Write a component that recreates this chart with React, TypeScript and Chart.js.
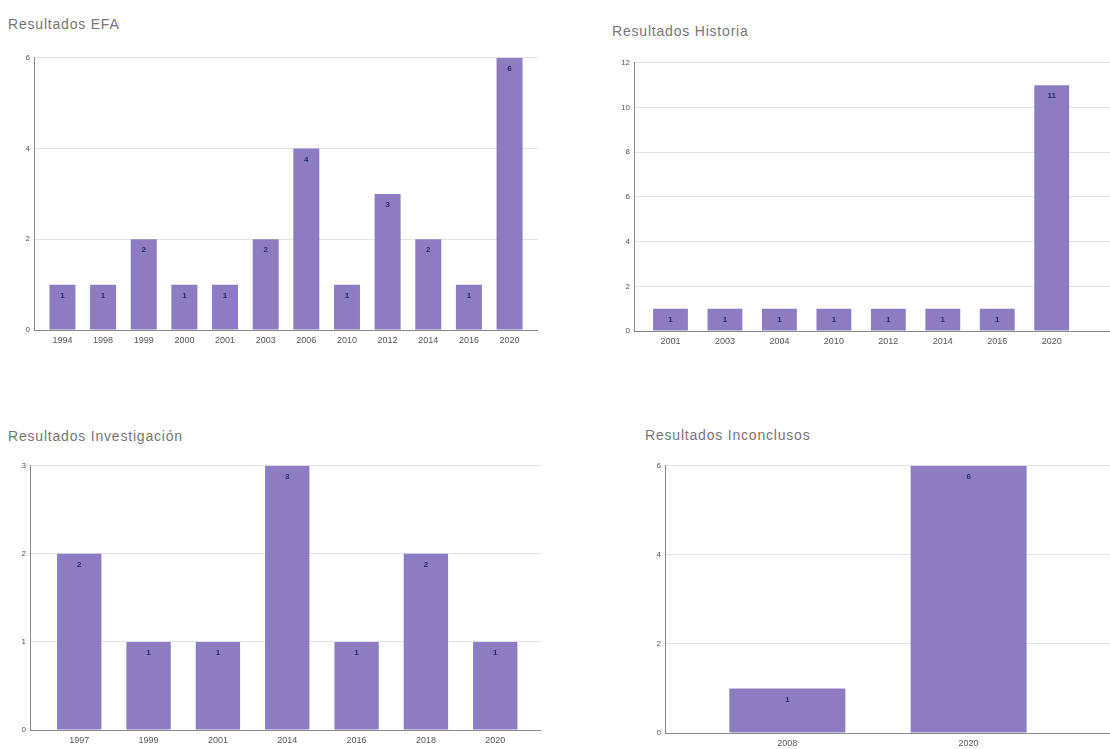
import React, { useEffect, useRef } from "react";
import { Chart, registerables } from "chart.js";

Chart.register(...registerables);

// ---- Data ----
const efaYears = ["1994", "1998", "1999", "2000", "2001", "2003", "2006", "2010", "2012", "2014", "2016", "2020"];
const efaValues = [1, 1, 2, 1, 1, 2, 4, 1, 3, 2, 1, 6];

const historiaYears = ["2001", "2003", "2004", "2010", "2012", "2014", "2016", "2020"];
const historiaValues = [1, 1, 1, 1, 1, 1, 1, 11];

const investigacionYears = ["1997", "1999", "2001", "2014", "2016", "2018", "2020"];
const investigacionValues = [2, 1, 1, 3, 1, 2, 1];

const inconclusosYears = ["2008", "2020"];
const inconclusosValues = [1, 6];

const BAR_COLOR = "#8e7cc3";
const FONT = "'Liberation Sans', Arial, sans-serif";

const valueLabelPlugin = {
  id: "valueLabels",
  afterDatasetsDraw(chart: any) {
    const ctx = chart.ctx;
    ctx.save();
    ctx.font = `bold 8px ${FONT}`;
    ctx.fillStyle = "#2b2b6e";
    ctx.textAlign = "center";
    ctx.textBaseline = "middle";
    chart.data.datasets.forEach((ds: any, di: number) => {
      const meta = chart.getDatasetMeta(di);
      meta.data.forEach((el: any, i: number) => {
        const v = ds.data[i].y;
        ctx.fillText(String(v), el.x, el.y + 11);
      });
    });
    ctx.restore();
  },
};

type PanelProps = {
  title: string;
  labels: string[];
  values: number[];
  yMax: number;
  yStep: number;
  xMin: number;
  xMax: number;
  left: number;
  top: number;
  width: number;
  height: number;
  titleLeft: number;
  titleTop: number;
  xHeight?: number;
  barPct?: number;
};

function BarPanel(p: PanelProps) {
  const ref = useRef<HTMLCanvasElement | null>(null);
  useEffect(() => {
    if (!ref.current) return;
    const labels = p.labels;
    const chart = new Chart(ref.current, {
      type: "bar",
      data: {
        datasets: [
          {
            data: p.values.map((v, i) => ({ x: i, y: v })),
            backgroundColor: BAR_COLOR,
            borderWidth: 0,
            barPercentage: p.barPct ?? 0.64,
            categoryPercentage: 1,
          } as any,
        ],
      },
      options: {
        animation: false,
        responsive: false,
        maintainAspectRatio: false,
        layout: { padding: { top: 2, right: 0, left: 0, bottom: 0 } },
        plugins: {
          legend: { display: false },
          title: { display: false },
          tooltip: { enabled: false },
        },
        scales: {
          x: {
            type: "linear",
            offset: false,
            min: p.xMin,
            max: p.xMax,
            afterBuildTicks: (scale: any) => {
              scale.ticks = labels.map((_, i) => ({ value: i }));
            },
            afterFit: (scale: any) => {
              scale.height = p.xHeight ?? 20;
            },
            grid: { display: false, drawTicks: false, offset: false },
            border: { display: true, color: "#8a8a8a", width: 1 },
            ticks: {
              autoSkip: false,
              maxRotation: 0,
              padding: 5,
              color: "#555",
              font: { size: 9, family: FONT },
              callback: (v: any) => labels[v] ?? "",
            },
          },
          y: {
            min: 0,
            max: p.yMax,
            afterFit: (scale: any) => {
              scale.width = 30;
            },
            grid: { color: "#e3e3e3", drawTicks: false },
            border: { display: true, color: "#8a8a8a", width: 1 },
            ticks: {
              stepSize: p.yStep,
              padding: 4,
              color: "#555",
              font: { size: 8, family: FONT },
            },
          },
        },
      },
      plugins: [valueLabelPlugin],
    });
    return () => chart.destroy();
  }, []);

  return (
    <>
      <div
        style={{
          position: "absolute",
          left: p.titleLeft,
          top: p.titleTop,
          fontFamily: FONT,
          fontSize: 14,
          letterSpacing: "0.8px",
          color: "#757575",
          whiteSpace: "nowrap",
          lineHeight: "16px",
        }}
      >
        {p.title}
      </div>
      <canvas
        ref={ref}
        width={p.width}
        height={p.height}
        style={{ position: "absolute", left: p.left, top: p.top, width: p.width, height: p.height }}
      />
    </>
  );
}

export default function App() {
  useEffect(() => {
    document.body.style.margin = "0";
  }, []);
  return (
    <div
      style={{
        position: "relative",
        width: 1110,
        height: 749,
        overflow: "hidden",
        background: "#fff",
      }}
    >
      <BarPanel
        title="Resultados EFA"
        labels={efaYears}
        values={efaValues}
        yMax={6}
        yStep={2}
        xMin={-0.7}
        xMax={11.7}
        left={4}
        top={49}
        width={534}
        height={301}
        titleLeft={8}
        titleTop={16}
      />
      <BarPanel
        title="Resultados Historia"
        labels={historiaYears}
        values={historiaValues}
        yMax={12}
        yStep={2}
        xMin={-0.67}
        xMax={8.07}
        left={604}
        top={54}
        width={506}
        height={297}
        titleLeft={612}
        titleTop={23}
      />
      <BarPanel
        title="Resultados Investigación"
        labels={investigacionYears}
        values={investigacionValues}
        yMax={3}
        yStep={1}
        xMin={-0.71}
        xMax={6.66}
        left={0}
        top={457}
        width={541}
        height={291}
        titleLeft={8}
        titleTop={428}
        xHeight={18}
      />
      <BarPanel
        title="Resultados Inconclusos"
        labels={inconclusosYears}
        values={inconclusosValues}
        yMax={6}
        yStep={2}
        xMin={-0.675}
        xMax={1.78}
        left={635}
        top={457}
        width={475}
        height={292}
        titleLeft={645}
        titleTop={427}
        xHeight={16}
      />
    </div>
  );
}
